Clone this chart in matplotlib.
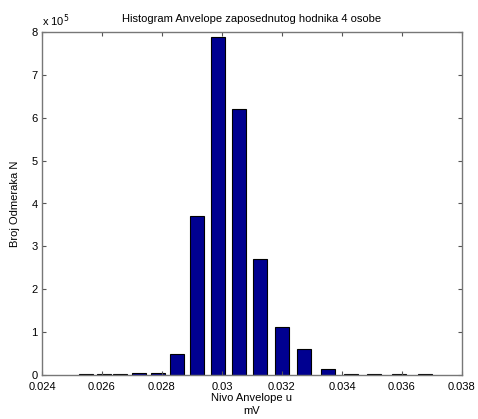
import matplotlib
matplotlib.use("Agg")
import matplotlib.pyplot as plt

# bin centers (mV) and counts
centers = [0.02547, 0.02607, 0.02660, 0.02723, 0.02787, 0.02850, 0.02917,
           0.02987, 0.03057, 0.03127, 0.03200, 0.03273, 0.03353, 0.03430,
           0.03507, 0.03590, 0.03677]
counts = [2000, 2000, 2000, 4000, 4000, 50000, 370000, 789000, 620000,
          270000, 113000, 60000, 15000, 2000, 2000, 3000, 2000]

xticks = [0.024, 0.026, 0.028, 0.030, 0.032, 0.034, 0.036, 0.038]
xticklabels = ['0.024', '0.026', '0.028', '0.03', '0.032', '0.034', '0.036', '0.038']
yticks = [0, 1, 2, 3, 4, 5, 6, 7, 8]
yscale = 1e5

plt.rcParams['font.family'] = ['Liberation Sans', 'DejaVu Sans']

fig = plt.figure(figsize=(4.78, 4.19), dpi=100)
ax = fig.add_axes([42/478, 44/419, 420/478, 343/419])

ax.bar(centers, [c / yscale for c in counts], width=0.00048,
       color='#000090', edgecolor='black', linewidth=0.8)

ax.set_xlim(0.024, 0.038)
ax.set_ylim(0, 8)
ax.set_xticks(xticks)
ax.set_xticklabels(xticklabels)
ax.set_yticks(yticks)
ax.tick_params(direction='in', top=True, right=True, labelsize=8,
               length=3, color='#555555')
ax.tick_params(axis='x', pad=5)
ax.tick_params(axis='y', pad=3)
for s in ax.spines.values():
    s.set_color('#777777')
    s.set_linewidth(1.0)

ax.set_title('Histogram Anvelope zaposednutog hodnika 4 osobe', fontsize=8, pad=7)
ax.set_xlabel('Nivo Anvelope u\nmV', fontsize=8, labelpad=1, linespacing=1.3)
ax.set_ylabel('Broj Odmeraka N', fontsize=8, labelpad=8)
ax.text(0.0, 1.01, r'x 10$^5$', transform=ax.transAxes, fontsize=8,
        ha='left', va='bottom')

fig.savefig('out.png', dpi=100)
